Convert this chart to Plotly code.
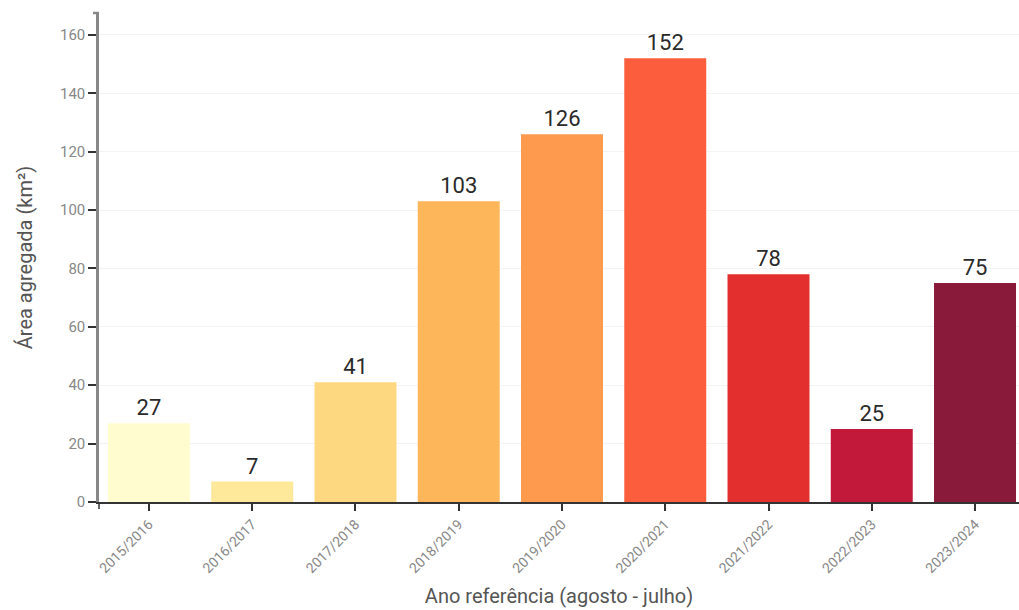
import plotly.graph_objects as go

categories = ["2015/2016", "2016/2017", "2017/2018", "2018/2019", "2019/2020",
              "2020/2021", "2021/2022", "2022/2023", "2023/2024"]
values = [27, 7, 41, 103, 126, 152, 78, 25, 75]
colors = ["#fffdd0", "#fee89a", "#fed880", "#feb65a", "#fd9a4e",
          "#fc5e3d", "#e3302f", "#c2183a", "#8a1a3a"]
y_ticks = [0, 20, 40, 60, 80, 100, 120, 140, 160]

fig = go.Figure(go.Bar(
    x=categories, y=values, marker=dict(color=colors, line=dict(width=0)),
    text=[str(v) for v in values], textposition="outside",
    textfont=dict(family="Roboto", size=22, color="#2a2a2a"),
    cliponaxis=False, width=0.794,
))

fig.update_layout(
    width=1019, height=610,
    margin=dict(l=99, r=0, t=13, b=108),
    paper_bgcolor="white", plot_bgcolor="white",
    showlegend=False,
    font=dict(family="Roboto", color="#555555"),
)
fig.update_xaxes(
    type="category", showline=True, linecolor="#333333", linewidth=1.5,
    ticks="outside", ticklen=7, tickcolor="#333333", tickwidth=1.5,
    tickangle=-45, tickfont=dict(family="Roboto", size=14, color="#888888"),
    title=dict(text="Ano referência (agosto - julho)", font=dict(family="Roboto", size=20, color="#555555"), standoff=14),
    showgrid=False, range=[-0.484, 8.426],
)
fig.update_yaxes(
    range=[0, 167.5], tickvals=y_ticks, showline=True, linecolor="#888888", linewidth=2.5,
    ticks="outside", ticklen=8, tickcolor="#333333", tickwidth=1.5,
    tickfont=dict(family="Roboto", size=15, color="#888888"),
    showgrid=True, gridcolor="#f3f3f3", gridwidth=1, zeroline=False,
    title=dict(text="Área agregada (km²)", font=dict(family="Roboto", size=20, color="#555555"), standoff=22),
)
# outer ticks of the axes
fig.add_shape(type="line", xref="paper", yref="paper", x0=-6/920, x1=0, y0=1, y1=1,
              line=dict(color="#888888", width=2.5))
fig.add_shape(type="line", xref="paper", yref="paper", x0=0, x1=0, y0=0, y1=-7/489,
              line=dict(color="#333333", width=1.5))

fig.write_html("out.html")
